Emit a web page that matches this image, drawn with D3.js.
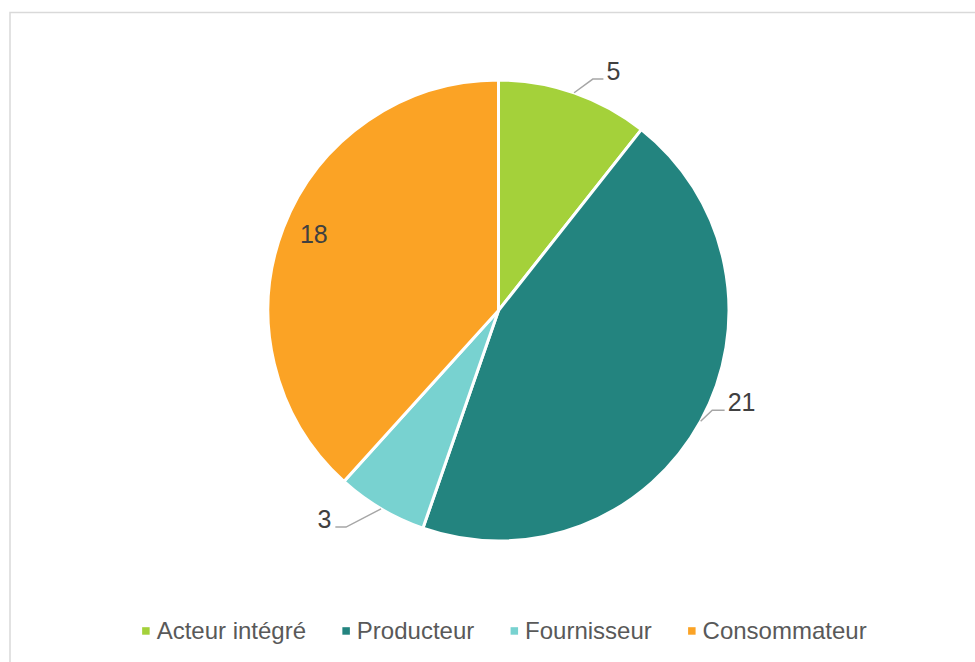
<!DOCTYPE html>
<html>
<head>
<meta charset="utf-8">
<script src="https://cdn.jsdelivr.net/npm/d3@7"></script>
<style>
  html, body { margin: 0; padding: 0; background: #ffffff; }
  svg { display: block; font-family: "Liberation Sans", Arial, sans-serif; }
</style>
</head>
<body>
<svg id="chart" width="975" height="662"></svg>
<script>
// Répartition des acteurs par catégorie
const categories = ["Acteur intégré", "Producteur", "Fournisseur", "Consommateur"];
const values = [5, 21, 3, 18];
const colors = ["#a4d13a", "#23847f", "#78d2d0", "#fba325"];

// Label placement: leader elbow offset from the slice edge, horizontal run length
const labelPlacement = [
  { outside: true, leader: [18.7, -13.7], run: 10.6 },
  { outside: true, leader: [11.6, -11.0], run: 12.4 },
  { outside: true, leader: [-35.0, 18.3], run: -10.7 },
  { outside: false, radius: 200, nudge: [2, -5] }
];

const W = 975, H = 662;
const cx = 498.5, cy = 310.5, R = 230.5;

const svg = d3.select("#chart");

// chart frame
svg.append("rect")
  .attr("x", 10).attr("y", 12.5)
  .attr("width", 1000).attr("height", 700)
  .attr("fill", "#ffffff")
  .attr("stroke", "#d9d9d9")
  .attr("stroke-width", 1.5);

const data = categories.map((c, i) => ({ category: c, value: values[i], color: colors[i], place: labelPlacement[i] }));

const pie = d3.pie().value(d => d.value).sort(null);
const arcs = pie(data);

const arc = d3.arc().innerRadius(0).outerRadius(R);
const edgeArc = d3.arc().innerRadius(R).outerRadius(R);

const g = svg.append("g").attr("transform", `translate(${cx},${cy})`);

g.selectAll("path.slice")
  .data(arcs)
  .join("path")
  .attr("class", "slice")
  .attr("d", arc)
  .attr("fill", d => d.data.color)
  .attr("stroke", "#ffffff")
  .attr("stroke-width", 3)
  .attr("stroke-linejoin", "round");

// data labels
arcs.forEach(d => {
  const p = d.data.place;
  if (p.outside) {
    const [sx, sy] = edgeArc.centroid(d);
    const ex = sx + p.leader[0], ey = sy + p.leader[1];
    const hx = ex + p.run;
    g.append("polyline")
      .attr("points", [[sx, sy], [ex, ey], [hx, ey]].map(q => q.join(",")).join(" "))
      .attr("fill", "none")
      .attr("stroke", "#a6a6a6")
      .attr("stroke-width", 1.5);
    const right = p.run > 0;
    g.append("text")
      .attr("x", hx + (right ? 3 : -4))
      .attr("y", ey + 1)
      .attr("text-anchor", right ? "start" : "end")
      .attr("font-size", 25)
      .attr("fill", "#404040")
      .text(d.data.value);
  } else {
    const inner = d3.arc().innerRadius(p.radius).outerRadius(p.radius);
    const [tx, ty] = inner.centroid(d);
    g.append("text")
      .attr("x", tx + p.nudge[0])
      .attr("y", ty + p.nudge[1])
      .attr("dy", "0.36em")
      .attr("text-anchor", "middle")
      .attr("font-size", 25)
      .attr("fill", "#404040")
      .text(d.data.value);
  }
});

// legend
const legendCenter = 504.4, legendBaseline = 639, markerSize = 7.5, markerGap = 7, itemGap = 36.3;
const legend = svg.append("g");
const items = legend.selectAll("g.item").data(data).join("g").attr("class", "item");
items.append("rect")
  .attr("width", markerSize).attr("height", markerSize)
  .attr("y", 627.2)
  .attr("fill", d => d.color);
items.append("text")
  .attr("y", legendBaseline)
  .attr("font-size", 24)
  .attr("fill", "#595959")
  .text(d => d.category);

const widths = [];
items.select("text").each(function () { widths.push(this.getComputedTextLength()); });
const total = d3.sum(widths) + data.length * (markerSize + markerGap) + (data.length - 1) * itemGap;
let x = legendCenter - total / 2;
items.each(function (d, i) {
  const it = d3.select(this);
  it.select("rect").attr("x", x);
  it.select("text").attr("x", x + markerSize + markerGap);
  x += markerSize + markerGap + widths[i] + itemGap;
});
</script>
</body>
</html>
